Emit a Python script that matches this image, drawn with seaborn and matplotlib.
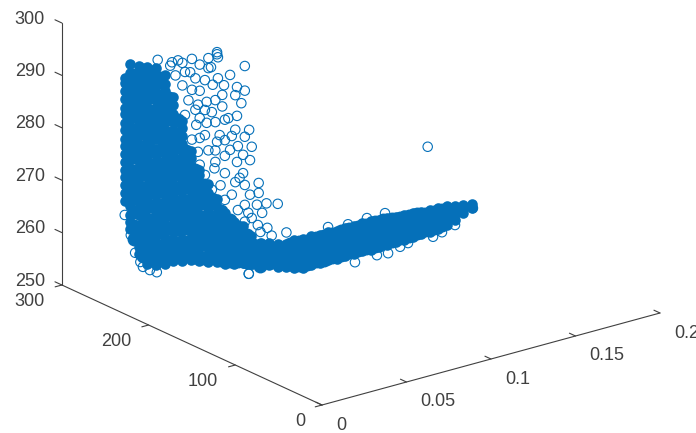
import numpy as np
import pandas as pd
import seaborn as sns
import matplotlib
matplotlib.use("Agg")
import matplotlib.pyplot as plt

# tick values
x_ticks = [0, 0.05, 0.1, 0.15, 0.2]
x_tick_labels = ["0", "0.05", "0.1", "0.15", "0.2"]
y_ticks = [0, 100, 200, 300]
z_ticks = [250, 260, 270, 280, 290, 300]

# dense column of the cloud, all read at x = 0.03, one z list per y level
column_x = 0.03
column_y = [286, 280, 270, 260, 250, 240, 230, 220, 210, 200, 190, 180, 170, 160, 150, 140]
column_z = [
    [264.5, 266, 267.5, 269, 270.4, 272, 273.4, 275, 276.3, 278, 279.4, 281, 282.3, 284, 285.5, 287, 288],
    [259.5, 261, 262.3, 264, 265.4, 267, 268.2, 270, 271.3, 273, 274.2, 276, 277.4, 279, 280.3, 282, 283.4, 285, 286.3, 288, 289.4, 291],
    [255.5, 257, 258.4, 260, 261.2, 263, 264.4, 266, 267.2, 269, 270.5, 272, 273.3, 275, 276.4, 278, 279.2, 281, 282.5, 284, 285.3, 287, 288.4, 290, 291.4],
    [254.4, 256, 257.3, 259, 260.4, 262, 263.2, 265, 266.4, 268, 269.3, 271, 272.4, 274, 275.2, 277, 278.5, 280, 281.3, 283, 284.4, 286, 287.2, 289, 290.4, 292],
    [255, 256.4, 258, 259.3, 261, 262.4, 264, 265.2, 267, 268.4, 270, 271.3, 273, 274.5, 276, 277.2, 279, 280.4, 282, 283.3, 285, 286.4, 288, 289.3, 291, 292.5],
    [256, 257.5, 259, 260.3, 262, 263.4, 265, 266.3, 268, 269.4, 271, 272.2, 274, 275.4, 277, 278.3, 280, 281.5, 283, 284.3, 286, 287.4, 289, 290.3, 292],
    [257.2, 258.6, 260, 261.4, 263, 264.3, 266, 267.4, 269, 270.2, 272, 273.5, 275, 276.3, 278, 279.4, 281, 282.2, 284, 285.4, 287, 288.6],
    [258, 259.4, 261, 262.3, 264, 265.5, 267, 268.3, 270, 271.4, 273, 274.2, 276, 277.4, 279, 280.3, 282, 283.4, 284.8],
    [259, 260.5, 262, 263.3, 265, 266.4, 268, 269.2, 271, 272.4, 274, 275.3, 277, 278.4, 279.8],
    [259.5, 261, 262.4, 264, 265.3, 267, 268.4, 270, 271.2, 273, 274.4, 276, 277],
    [260.2, 261.6, 263, 264.5, 266, 267.3, 269, 270.4, 272, 273.3, 275],
    [261, 262.5, 264, 265.4, 267, 268.3, 270, 271.4, 273],
    [261.3, 262.8, 264.3, 265.8, 267.2, 268.7, 270, 271],
    [262, 263.5, 265, 266.4, 268, 269.2, 270],
    [263, 264.4, 266, 267.3, 268.8, 270],
    [263.5, 265, 266.4, 268, 269],
]

# heavier overlap between those columns, drawn as bigger solid dots
fill_y = [275, 265, 255, 245, 235, 225, 215, 205, 195, 185, 175, 165, 155, 145, 130]
fill_z = [
    [258, 260.6, 263.2, 265.9, 268.5, 271, 273.7, 276.3, 278.9, 281.5, 284.1, 286.7, 289.4],
    [255.6, 258.2, 260.8, 263.4, 266, 268.6, 271.2, 273.8, 276.4, 279, 281.6, 284.2, 286.8, 289.4, 291],
    [255.5, 258, 260.7, 263.3, 265.9, 268.5, 271.1, 273.7, 276.3, 278.9, 281.5, 284.1, 286.7, 289.3, 291.5],
    [256.5, 259.1, 261.7, 264.3, 266.9, 269.5, 272.1, 274.7, 277.3, 279.9, 282.5, 285.1, 287.7, 290.3, 291],
    [258, 260.6, 263.2, 265.8, 268.4, 271, 273.6, 276.2, 278.8, 281.4, 284, 286.6, 288],
    [258.6, 261.2, 263.8, 266.4, 269, 271.6, 274.2, 276.8, 279.4, 282, 284.5],
    [259.5, 262.1, 264.7, 267.3, 269.9, 272.5, 275.1, 277.7, 279.5],
    [260, 262.6, 265.2, 267.8, 270.4, 273, 275.6, 276.5],
    [260.6, 263.2, 265.8, 268.4, 271, 273.6, 274.5],
    [261.4, 264, 266.6, 269.2, 271.8, 272.5],
    [261.6, 264.2, 266.8, 269.4, 271],
    [262.2, 264.8, 267.4, 270],
    [263, 265.6, 268.2, 269.5],
    [263.6, 266.2, 268.8],
    [264, 266.5, 268],
]

# tail of the cloud, all read at y = 100, one z list per x level
tail_y = 100
tail_x = [0.005, 0.01, 0.015, 0.02, 0.025, 0.03, 0.035, 0.04, 0.045, 0.05, 0.055, 0.06, 0.065, 0.07,
          0.075, 0.08, 0.085, 0.09, 0.095, 0.1, 0.105, 0.11, 0.115, 0.12, 0.125, 0.13, 0.135, 0.14]
tail_z = [
    [269, 270.3, 271.6, 273],
    [268.4, 269.8, 271.2, 272.5],
    [267.8, 269.2, 270.6, 272],
    [267.3, 268.6, 270, 271.5],
    [266.6, 268, 269.4, 270.9],
    [266, 267.3, 268.8, 270.5],
    [265.4, 266.8, 268.2, 269.6, 270.8],
    [265, 266.4, 267.8, 269.2, 270.5],
    [265.2, 266.6, 268, 269.4, 270.6],
    [265, 266.3, 267.7, 269.1, 270.4],
    [265.2, 266.6, 268, 269.4, 270.5],
    [265, 266.3, 267.7, 269.1, 270.4],
    [265.1, 266.5, 267.9, 269.3, 270.5],
    [265, 266.3, 267.7, 269.1, 270.4],
    [265.2, 266.6, 268, 269.4, 270.5],
    [265, 266.3, 267.7, 269.1, 270.4],
    [265.1, 266.5, 267.9, 269.3, 270.3],
    [265, 266.3, 267.7, 269.1, 270.2],
    [265.2, 266.6, 268, 269.4, 270],
    [265.1, 266.4, 267.8, 269, 269.9],
    [265.2, 266.6, 267.9, 269.2, 269.8],
    [265.3, 266.6, 268, 269.5],
    [265.3, 266.7, 268.1, 269.5],
    [265.4, 266.8, 268.2, 269.5],
    [265.8, 267.1, 268.3, 269.3],
    [266.3, 267.5, 268.7, 269],
    [267.1, 268, 268.7],
    [267.6, 268.5],
]
tail_fill_x = [0.0075, 0.0125, 0.0175, 0.0225, 0.0275, 0.0325, 0.0375, 0.0425, 0.0475, 0.0525, 0.0575, 0.0625,
               0.0675, 0.0725, 0.0775, 0.0825, 0.0875, 0.0925, 0.0975, 0.1025, 0.1075, 0.1125, 0.1175, 0.1225]
tail_fill_z = [
    [269.2, 271.3], [268.6, 270.8], [268.1, 270.4], [267.6, 270], [267, 269.6], [266.4, 268.7, 270.2],
    [265.8, 268, 270.1], [265.5, 267.8, 270], [265.6, 267.8, 270], [265.5, 267.7, 270], [265.6, 267.9, 270],
    [265.5, 267.8, 270], [265.6, 267.8, 270], [265.5, 267.7, 270], [265.6, 267.9, 270], [265.5, 267.8, 270],
    [265.6, 267.8, 269.9], [265.6, 267.7, 269.7], [265.7, 267.8, 269.5], [265.7, 267.7, 269.4],
    [265.8, 267.6, 269.3], [265.8, 267.5, 269], [265.9, 267.6, 268.9], [266, 267.6, 268.9],
]

# single open circles around the dense parts
scatter_x = [0.06] * 96 + [0.12]
scatter_y = [238, 238, 237, 206, 267, 248, 278, 258, 248, 269, 243, 230, 215, 206, 258, 232, 217, 210,
             250, 232, 263, 252, 215, 229, 240, 250, 201, 221, 206, 258, 238, 214, 198, 229, 208, 200,
             215, 240, 208, 229, 190, 217, 206, 190, 181, 168, 192, 186, 158, 180, 175, 245,
             292, 286, 275, 290, 283, 278, 267, 271, 260, 275, 262, 252, 267, 248, 260, 241, 252, 234,
             244, 221, 229, 206, 214, 198, 206, 191, 200, 212, 223, 235, 225, 240, 223, 237, 252, 263,
             244, 258, 240, 258, 229, 217, 188, 202, 112]
scatter_z = [293.9, 293.5, 293, 293.7, 290.4, 292, 288.8, 290, 290.1, 287.7, 287.3, 288.2, 289, 289,
             285, 286.2, 287.3, 286.3, 283.5, 284, 281, 281.8, 283.5, 281.7, 280.4, 279.5, 281.9, 279.2,
             280.2, 276, 276.8, 277.8, 278.9, 274.8, 276.6, 276.2, 274.7, 272.8, 273.1, 271.5, 272.6,
             270.7, 271, 270.7, 269.4, 270.3, 268.3, 267.2, 265.6, 264.8, 263.7, 290.5,
             287.2, 285.8, 287.3, 288, 288.9, 284.5, 284.5, 282.2, 282.2, 279.1, 278.2, 277, 275, 274.4,
             273.2, 271.5, 269.4, 268.8, 267.2, 268, 266.4, 267.2, 265.6, 265.3, 264, 264.5, 269.6, 271.9,
             276.4, 278.3, 282.3, 284.6, 290.7, 289, 287.5, 287, 282, 279.8, 275, 270.9, 277.8, 280.7,
             263.4, 266, 280.2]

rim_x = [0.03] * 10 + [0.1406, 0.13, 0.1223, 0.117, 0.1022, 0.0975, 0.0904, 0.0838, 0.0708,
                       0.0779, 0.0886, 0.0667, 0.0549, 0.008]
rim_y = [249, 265, 274, 282, 279, 286, 257, 268, 248, 143] + [100] * 14
rim_z = [253.7, 253.5, 255.5, 264.6, 258.5, 261.8, 253.5, 254.2, 294.3, 261.5,
         267.6, 265.3, 264.6, 264.2, 264.3, 264, 263.4, 263.6, 263.4, 271.2, 271.2, 271, 271.5, 266.7]

blue = "#0570b9"
ink = "#404040"


# fixed view of the box, data -> picture pixels
def project(x, y, z):
    x, y, z = np.asarray(x, float), np.asarray(y, float), np.asarray(z, float)
    return 322 + 1690 * x - 0.867 * y, 405 - 460 * x - 0.4 * y - 5.24 * (z - 250)


core_rows = []
for y, zs in zip(column_y, column_z):
    core_rows += [(column_x, y, z) for z in zs]
for x, zs in zip(tail_x, tail_z):
    core_rows += [(x, tail_y, z) for z in zs]
core = pd.DataFrame(core_rows, columns=["x", "y", "z"])
core["sx"], core["sy"] = project(core.x, core.y, core.z)

fill_rows = []
for y, zs in zip(fill_y, fill_z):
    fill_rows += [(column_x, y, z) for z in zs]
for x, zs in zip(tail_fill_x, tail_fill_z):
    fill_rows += [(x, tail_y, z) for z in zs]
fill = pd.DataFrame(fill_rows, columns=["x", "y", "z"])
fill["sx"], fill["sy"] = project(fill.x, fill.y, fill.z)

sns.set_style("white")
plt.rcParams["font.family"] = ["Liberation Sans", "DejaVu Sans"]

fig = plt.figure(figsize=(6.96, 4.33), dpi=100)
ax = fig.add_axes([0, 0, 1, 1])

sns.scatterplot(data=core, x="sx", y="sy", s=58, color=blue, linewidth=0, ax=ax)
sns.scatterplot(data=fill, x="sx", y="sy", s=100, color=blue, linewidth=0, ax=ax)

open_x, open_y = project(scatter_x + rim_x, scatter_y + rim_y, scatter_z + rim_z)
sns.scatterplot(x=open_x, y=open_y, s=46, facecolor="none", edgecolor=blue, linewidth=0.8, ax=ax)

# box edges
for a, b in [((0, 300, 250), (0, 300, 300)), ((0, 300, 250), (0, 0, 250)), ((0, 0, 250), (0.2, 0, 250))]:
    sx, sy = project(*zip(a, b))
    ax.plot(sx, sy, color=ink, lw=0.8)

# ticks and labels
for v, lab in zip(x_ticks, x_tick_labels):
    sx, sy = project([v, v], [0, 7], [250, 250])
    ax.plot(sx, sy, color=ink, lw=0.8)
    ax.text(sx[0] + 14, sy[0] + 20, lab, ha="left", va="center", color=ink, fontsize=13)
for v in y_ticks:
    sx, sy = project([0, 0.004], [v, v], [250, 250])
    ax.plot(sx - (sx[1] - sx[0]), sy - (sy[1] - sy[0]), color=ink, lw=0.8)
    ax.text(sx[0] - 17, sy[0] + 17, str(v), ha="right", va="center", color=ink, fontsize=13)
for v in z_ticks:
    sx, sy = project([0, 0], [300, 308], [v, v])
    ax.plot(sx, sy, color=ink, lw=0.8)
    ax.text(sx[0] - 17, sy[0] - 4, str(v), ha="right", va="center", color=ink, fontsize=13)

ax.set_xlim(0, 696)
ax.set_ylim(433, 0)
ax.set_xlabel("")
ax.set_ylabel("")
ax.axis("off")

fig.savefig("out.png", dpi=100)
